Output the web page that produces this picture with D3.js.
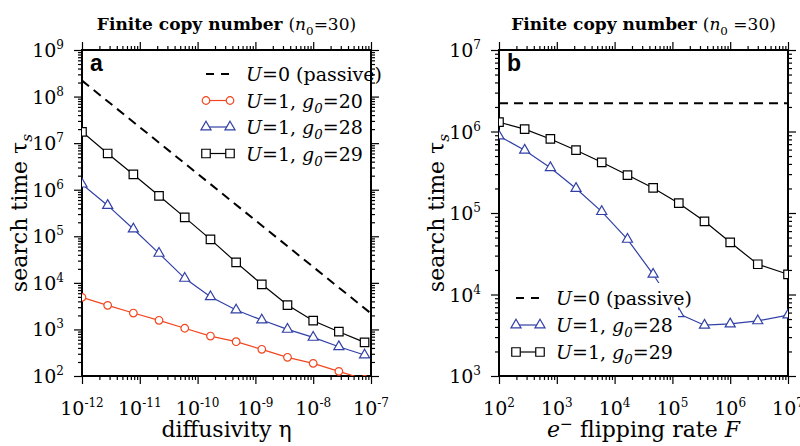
<!DOCTYPE html>
<html>
<head>
<meta charset="utf-8">
<script src="https://cdn.jsdelivr.net/npm/d3@7/dist/d3.min.js"></script>
<style>
  body { margin: 0; background: #fff; }
  svg { display: block; }
</style>
</head>
<body>
<div class="graphs"></div>
<script>
// panel a: search time vs diffusivity
const etaValues = [1e-12, 2.78e-12, 7.74e-12, 2.15e-11, 5.99e-11, 1.67e-10, 4.64e-10, 1.29e-9, 3.59e-9, 1e-8, 2.78e-8, 7.74e-8]
const tauEtaG20 = [4890, 3290, 2250, 1570, 1060, 721, 545, 374, 252, 187, 126, 85]
const tauEtaG28 = [1.32e6, 4.6e5, 1.43e5, 4.3e4, 1.25e4, 5030, 2610, 1590, 1005, 677, 425, 282]
const tauEtaG29 = [1.75e7, 6.0e6, 2.13e6, 7.4e5, 2.55e5, 8.6e4, 2.75e4, 9300, 3340, 1540, 893, 528]
const etaPassive = [1e-12, 1e-7]
const tauEtaPassive = [2.2e8, 2.2e3]

// panel b: search time vs flipping rate
const flipRates = [100, 278, 774, 2150, 5990, 1.67e4, 4.64e4, 1.29e5, 3.59e5, 1e6, 3e6, 1e7]
const tauFlipG28 = [8.8e5, 5.9e5, 3.6e5, 2.0e5, 1.04e5, 4.75e4, 1.77e4, 5800, 4200, 4350, 4750, 5600]
const tauFlipG29 = [1.3e6, 1.07e6, 8.1e5, 5.9e5, 4.19e5, 2.92e5, 2.03e5, 1.32e5, 7.9e4, 4.37e4, 2.35e4, 1.77e4]
const flipPassive = [100, 1e7]
const tauFlipPassive = [2.22e6, 2.22e6]

// tick exponents
const etaExps = [-12, -11, -10, -9, -8, -7]
const tauExpsA = [2, 3, 4, 5, 6, 7, 8, 9]
const flipExps = [2, 3, 4, 5, 6, 7]
const tauExpsB = [3, 4, 5, 6, 7]

const RED = "#f2461e"
const BLUE = "#3140a6"
const SERIF = "'DejaVu Serif', 'Liberation Serif', LiberationSerif, 'Noto Serif', Tinos, FreeSerif, 'Nimbus Roman', 'Times New Roman', Times, serif"

const svg = d3.select(".graphs").append("svg")
    .attr("width", 800)
    .attr("height", 446)
    .attr("font-family", SERIF)

// rich text helper: parts = [{t, i, b, sub, sup}]
function rich(sel, parts, small) {
    let shift = 0
    sel.attr("font-family", SERIF)
    parts.forEach(function (p) {
        const ts = sel.append("tspan").text(p.t)
        let want = p.sub ? 5 : p.sup ? -8 : 0
        if (want !== shift) { ts.attr("dy", want - shift); shift = want }
        if (p.i) ts.style("font-style", "italic")
        if (p.b) ts.style("font-weight", "bold")
        if (p.sub || p.sup) ts.style("font-size", small || "0.7em")
    })
    return sel
}

function minorTicks(e0, e1) {
    const out = []
    for (let e = e0; e < e1; e++) for (let m = 2; m <= 9; m++) out.push(m * Math.pow(10, e))
    return out
}

function drawMarker(g, type, color) {
    if (type === "circle") {
        return g.append("circle").attr("r", 3.8)
            .attr("fill", "#fff").attr("stroke", color).attr("stroke-width", 1.2)
    }
    const sym = type === "triangle" ? d3.symbol(d3.symbolTriangle, 44) : d3.symbol(d3.symbolSquare, 72)
    return g.append("path").attr("d", sym())
        .attr("fill", "#fff").attr("stroke", color).attr("stroke-width", 1.2)
}

function drawPanel(cfg) {
    const left = cfg.left, right = cfg.left + 289, top = 50, bottom = 376
    const x = d3.scaleLog().domain(cfg.xDomain).range([left, right])
    const y = d3.scaleLog().domain(cfg.yDomain).range([bottom, top])
    const g = svg.append("g")

    const clipId = "clip-" + cfg.id
    svg.append("clipPath").attr("id", clipId)
        .append("rect").attr("x", left).attr("y", top).attr("width", right - left).attr("height", bottom - top)

    const xMajor = cfg.xExps.map(e => Math.pow(10, e))
    const yMajor = cfg.yExps.map(e => Math.pow(10, e))
    const xMinor = minorTicks(cfg.xExps[0], cfg.xExps[cfg.xExps.length - 1])
    const yMinor = minorTicks(cfg.yExps[0], cfg.yExps[cfg.yExps.length - 1])

    // ticks on all four sides, pointing outward
    const axes = [
        [d3.axisBottom(x), xMajor, xMinor, `translate(0,${bottom})`],
        [d3.axisTop(x), xMajor, xMinor, `translate(0,${top})`],
        [d3.axisLeft(y), yMajor, yMinor, `translate(${left},0)`],
        [d3.axisRight(y), yMajor, yMinor, `translate(${right},0)`]
    ]
    axes.forEach(function (a) {
        [[a[1], 8], [a[2], 4]].forEach(function (t) {
            g.append("g")
                .attr("transform", a[3])
                .call(a[0].tickValues(t[0]).tickSize(t[1]).tickFormat(""))
                .call(s => s.select(".domain").remove())
                .selectAll("line").attr("stroke", "#000").attr("stroke-width", 1.2)
        })
    })

    // frame
    g.append("rect")
        .attr("x", left).attr("y", top).attr("width", right - left).attr("height", bottom - top)
        .attr("fill", "none").attr("stroke", "#000").attr("stroke-width", 2)

    // tick labels
    cfg.xExps.forEach(function (e) {
        rich(g.append("text").attr("x", x(Math.pow(10, e))).attr("y", 415)
            .attr("text-anchor", "middle").style("font-size", "19px"),
            [{ t: "10" }, { t: String(e), sup: true }], "12px")
    })
    cfg.yExps.forEach(function (e) {
        rich(g.append("text").attr("x", left - 18).attr("y", y(Math.pow(10, e)) + 7)
            .attr("text-anchor", "end").style("font-size", "19px"),
            [{ t: "10" }, { t: String(e), sup: true }], "12px")
    })

    // series
    const plot = g.append("g").attr("clip-path", `url(#${clipId})`)
    const line = d3.line().x(d => x(d[0])).y(d => y(d[1]))

    cfg.series.forEach(function (s) {
        const pts = d3.zip(s.x, s.y)
        plot.append("path").datum(pts)
            .attr("d", line)
            .attr("fill", "none")
            .attr("stroke", s.color)
            .attr("stroke-width", s.dash ? 2 : 1.2)
            .attr("stroke-dasharray", s.dash ? "9,6" : null)
        if (s.marker) {
            pts.forEach(function (p) {
                drawMarker(plot, s.marker, s.color)
                    .attr("transform", `translate(${x(p[0])},${y(p[1])})`)
            })
        }
    })

    // legend
    const lg = g.append("g")
    if (cfg.legendBox) {
        lg.append("rect").attr("x", cfg.legendBox[0]).attr("y", cfg.legendBox[1])
            .attr("width", cfg.legendBox[2]).attr("height", cfg.legendBox[3]).attr("fill", "#fff")
    }
    cfg.legend.forEach(function (s, i) {
        const ly = cfg.legendY + i * cfg.legendGap
        const x0 = cfg.legendX, x1 = cfg.legendX + 24
        lg.append("line").attr("x1", x0).attr("x2", x1).attr("y1", ly).attr("y2", ly)
            .attr("stroke", s.color).attr("stroke-width", s.dash ? 2 : 1.2)
            .attr("stroke-dasharray", s.dash ? "8,7" : null)
        if (s.marker) {
            drawMarker(lg, s.marker, s.color).attr("transform", `translate(${x0},${ly})`)
            drawMarker(lg, s.marker, s.color).attr("transform", `translate(${x1},${ly})`)
        }
        rich(lg.append("text").attr("x", x0 + 40).attr("y", ly + 7).style("font-size", "19px"), s.label)
    })

    // panel letter
    g.append("text").attr("x", left + 8).attr("y", 71)
        .attr("font-family", "'Liberation Sans', Arial, sans-serif")
        .style("font-weight", "bold").style("font-size", "23px")
        .text(cfg.id)

    // title
    const cx = (left + right) / 2
    rich(g.append("text").attr("x", cx).attr("y", 30).attr("text-anchor", "middle").style("font-size", "17px"),
        [{ t: "Finite copy number ", b: true }, { t: "(" }, { t: "n", i: true }, { t: "0", sub: true }, { t: cfg.titleTail }])

    // axis titles
    rich(g.append("text").attr("x", cx).attr("y", 437).attr("text-anchor", "middle").style("font-size", "22px"), cfg.xTitle)
    rich(g.append("text")
        .attr("transform", `translate(${left - 55},${(top + bottom) / 2}) rotate(-90)`)
        .attr("text-anchor", "middle").style("font-size", "22px"),
        [{ t: "search time  \u03c4" }, { t: "s", sub: true, i: true }])
}

const labPassive = [{ t: "U", i: true }, { t: "=0 (passive)" }]
const lab = g0 => [{ t: "U", i: true }, { t: "=1, " }, { t: "g", i: true }, { t: "0", sub: true, i: true }, { t: "=" + g0 }]

const passiveA = { x: etaPassive, y: tauEtaPassive, color: "#000", dash: true, label: labPassive }
const g20A = { x: etaValues, y: tauEtaG20, color: RED, marker: "circle", label: lab(20) }
const g28A = { x: etaValues, y: tauEtaG28, color: BLUE, marker: "triangle", label: lab(28) }
const g29A = { x: etaValues, y: tauEtaG29, color: "#000", marker: "square", label: lab(29) }

drawPanel({
    id: "a", left: 82, xDomain: [1e-12, 1e-7], yDomain: [1e2, 1e9],
    xExps: etaExps, yExps: tauExpsA,
    series: [passiveA, g20A, g28A, g29A],
    legend: [passiveA, g20A, g28A, g29A],
    legendX: 206, legendY: 74, legendGap: 26.5,
    titleTail: "=30)",
    xTitle: [{ t: "diffusivity \u03b7" }]
})

const passiveB = { x: flipPassive, y: tauFlipPassive, color: "#000", dash: true, label: labPassive }
const g28B = { x: flipRates, y: tauFlipG28, color: BLUE, marker: "triangle", label: lab(28) }
const g29B = { x: flipRates, y: tauFlipG29, color: "#000", marker: "square", label: lab(29) }

drawPanel({
    id: "b", left: 499, xDomain: [1e2, 1e7], yDomain: [1e3, 1e7],
    xExps: flipExps, yExps: tauExpsB,
    series: [passiveB, g28B, g29B],
    legend: [passiveB, g28B, g29B],
    legendX: 516, legendY: 298, legendGap: 27,
    legendBox: [502, 283, 176, 85],
    titleTail: " =30)",
    xTitle: [{ t: "e", i: true }, { t: "\u2212", sup: true }, { t: " flipping rate  " }, { t: "F", i: true }]
})
</script>
</body>
</html>
